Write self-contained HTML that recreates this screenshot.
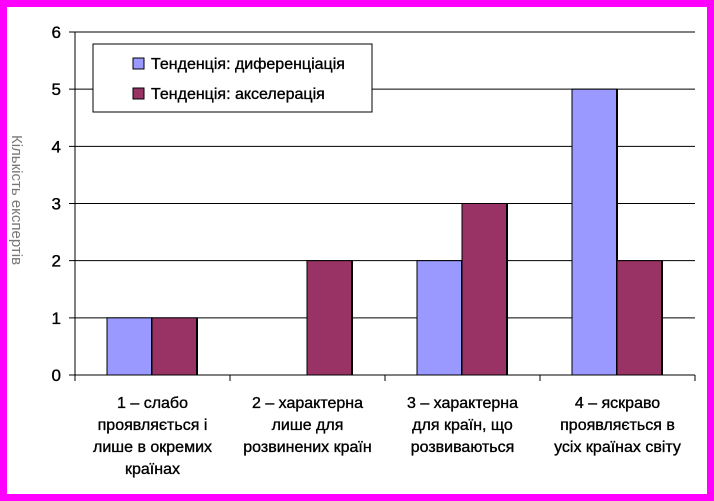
<!DOCTYPE html>
<html><head><meta charset="utf-8"><style>
body{margin:0;width:714px;height:501px;overflow:hidden;background:#fff}
#frame{position:absolute;left:0;top:0;width:700px;height:487px;border:7px solid #ff00ff;background:#fff;overflow:hidden}
svg{position:absolute;left:0;top:0}
text{font-family:"Liberation Sans",sans-serif;fill:#000}
.lbl{stroke:#000;stroke-width:0.35}
</style></head><body>
<div id="frame"></div>
<svg id="chart" width="714" height="501">
<rect x="0" y="0" width="7" height="501" fill="#ff00ff"/>
<text x="0" y="0" transform="translate(12,200) rotate(90)" text-anchor="middle" font-size="15" style="fill:#777">Кількість експертів</text>
<rect x="0" y="0" width="7" height="501" fill="#ff00ff"/>
</svg>
<script>
const categories=[["1 – слабо","проявляється і","лише в окремих","країнах"],["2 – характерна","лише для","розвинених країн"],["3 – характерна","для країн, що","розвиваються"],["4 – яскраво","проявляється в","усіх країнах світу"]];
const seriesNames=["Тенденція: диференціація","Тенденція: акселерація"];
const diffValues=[1,0,2,5];
const accelValues=[1,2,3,2];
const yTicks=[0,1,2,3,4,5,6];
const colors=["#9999ff","#993366"];
const NS="http://www.w3.org/2000/svg";
const svg=document.getElementById('chart');
const L=75,R=695,T=32,B=375,ymax=6;
const y=v=>B-(v/ymax)*(B-T);
const cw=(R-L)/categories.length;
const x=i=>L+i*cw;
function mk(t,a){const e=document.createElementNS(NS,t);for(const k in a)e.setAttribute(k,a[k]);svg.appendChild(e);return e;}
yTicks.forEach(t=>{
 const g=mk('line',{x1:L-6,x2:R,y1:y(t),y2:y(t),stroke:'#000','stroke-width':1});
 
 
 const tx=mk('text',{x:L-14,y:y(t)+6,'text-anchor':'end','font-size':17,'class':'lbl'});
 tx.textContent=t;
 
 
});
const ax=mk('line',{x1:L,x2:L,y1:T,y2:B+6,stroke:'#000'});


const bw=45;
[diffValues,accelValues].forEach((vals,s)=>{
 vals.forEach((v,i)=>{
  if(v<=0)return;
  const bx=x(i)+32+s*bw;
  const r=mk('rect',{x:bx,y:y(v),width:bw,height:B-y(v),fill:colors[s],stroke:'#000','stroke-width':1});
  
  
  const sh=mk('line',{x1:bx+bw,x2:bx+bw,y1:y(v),y2:B,stroke:'#000','stroke-width':2});
  
  
 });
});
const xa=mk('line',{x1:L,x2:R,y1:B,y2:B,stroke:'#000'});


categories.forEach((lines,i)=>{
 const tk=mk('line',{x1:x(i+1),x2:x(i+1),y1:B,y2:B+6,stroke:'#000'});
 
 
 lines.forEach((ln,j)=>{
  const t=mk('text',{x:x(i)+cw/2,y:B+33+j*22,'text-anchor':'middle','font-size':16,'class':'lbl'});
  t.textContent=ln;
  
  
 });
});
const lg=mk('rect',{x:93,y:44,width:279,height:68,fill:'#fff',stroke:'#000'});


seriesNames.forEach((n,s)=>{
 const r=mk('rect',{x:133,y:58+s*30,width:11,height:11,fill:colors[s],stroke:'#000'});
 
 
 const t=mk('text',{x:151,y:69+s*30,'font-size':16,'class':'lbl'});
 t.textContent=n;
 
 
});
</script>
</body></html>
